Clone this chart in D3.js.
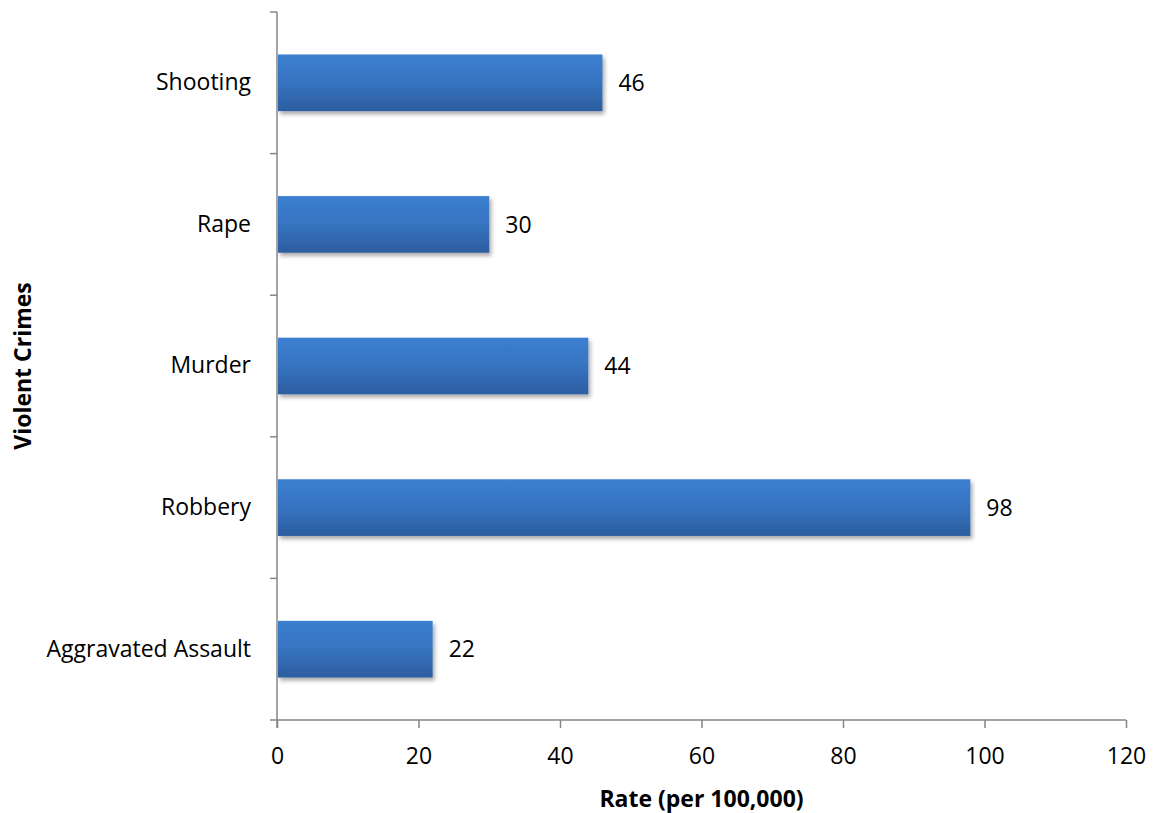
<!DOCTYPE html>
<html>
<head>
<meta charset="utf-8">
<script src="https://cdn.jsdelivr.net/npm/d3@7"></script>
<style>
  html, body { margin: 0; padding: 0; background: #fff; }
  svg { display: block; }
  text { font-family: "Open Sans", "Lato", sans-serif; fill: #000; }
</style>
</head>
<body>
<svg id="chart" width="1153" height="813"></svg>
<script>
const categories = ["Shooting", "Rape", "Murder", "Robbery", "Aggravated Assault"];
const values = [46, 30, 44, 98, 22];
const xTicks = [0, 20, 40, 60, 80, 100, 120];
const xTitle = "Rate (per 100,000)";
const yTitle = "Violent Crimes";

(function () {
const svg = d3.select("#chart");
const mLeft = 277, mRight = 1126, mTop = 12, mBottom = 720;
const fs = 23;

const x = d3.scaleLinear().domain([0, 120]).range([mLeft, mRight]);
const y = d3.scaleBand().domain(categories).range([mTop, mBottom]).paddingInner(0.6).paddingOuter(0.3);

const defs = svg.append("defs");
const grad = defs.append("linearGradient").attr("id", "barGrad")
  .attr("x1", 0).attr("y1", 0).attr("x2", 0).attr("y2", 1);
grad.append("stop").attr("offset", "0%").attr("stop-color", "#3b7fd0");
grad.append("stop").attr("offset", "45%").attr("stop-color", "#3775c3");
grad.append("stop").attr("offset", "100%").attr("stop-color", "#2c5d9f");

const filt = defs.append("filter").attr("id", "shadow").attr("x", "-5%").attr("y", "-20%").attr("width", "115%").attr("height", "160%");
filt.append("feGaussianBlur").attr("in", "SourceAlpha").attr("stdDeviation", 2.2).attr("result", "blur");
filt.append("feOffset").attr("in", "blur").attr("dx", 2).attr("dy", 3).attr("result", "off");
filt.append("feComponentTransfer").attr("in", "off").attr("result", "off2")
  .append("feFuncA").attr("type", "linear").attr("slope", 0.35);
const merge = filt.append("feMerge");
merge.append("feMergeNode").attr("in", "off2");
merge.append("feMergeNode").attr("in", "SourceGraphic");

// bars
svg.append("g").selectAll("rect").data(categories).join("rect")
  .attr("x", x(0) + 1)
  .attr("y", d => y(d))
  .attr("width", (d, i) => x(values[i]) - x(0) - 1)
  .attr("height", y.bandwidth())
  .attr("fill", "url(#barGrad)")
  .attr("filter", "url(#shadow)");

// value labels
svg.append("g").selectAll("text").data(categories).join("text")
  .attr("x", (d, i) => x(values[i]) + 16)
  .attr("y", d => y(d) + y.bandwidth() / 2)
  .attr("dy", "0.36em")
  .attr("font-size", fs)
  .text((d, i) => values[i]);

// x axis
const xAxis = d3.axisBottom(x).tickValues(xTicks).tickSize(8).tickSizeOuter(0).tickPadding(20);
const gx = svg.append("g").attr("transform", `translate(0,${mBottom})`).call(xAxis);
gx.select(".domain").attr("stroke", "#868686").attr("stroke-width", 1.5).attr("d", `M${mLeft - 7},0H${mRight}`);
gx.selectAll(".tick line").attr("stroke", "#868686").attr("stroke-width", 1.5);
gx.selectAll(".tick text").attr("font-size", fs).attr("font-family", "'Open Sans', sans-serif").attr("fill", "#000");

// y axis
const yAxis = d3.axisLeft(y).tickSize(0).tickPadding(26);
const gy = svg.append("g").attr("transform", `translate(${mLeft},0)`).call(yAxis);
gy.select(".domain").attr("stroke", "#868686").attr("stroke-width", 1.5).attr("d", `M0,${mTop}V${mBottom + 8}`);
gy.selectAll(".tick text").attr("font-size", fs).attr("font-family", "'Open Sans', sans-serif").attr("fill", "#000");
// category boundary ticks
const bounds = d3.range(categories.length + 1).map(i => mTop + i * (mBottom - mTop) / categories.length);
svg.append("g").selectAll("line").data(bounds.slice(0, -1)).join("line")
  .attr("x1", mLeft - 7).attr("x2", mLeft).attr("y1", d => d).attr("y2", d => d)
  .attr("stroke", "#868686").attr("stroke-width", 1.5);

// titles
svg.append("text").attr("x", (mLeft + mRight) / 2).attr("y", 807)
  .attr("text-anchor", "middle").attr("font-size", fs).attr("font-weight", "bold").text(xTitle);
svg.append("text").attr("transform", `translate(31,${(mTop + mBottom) / 2}) rotate(-90)`)
  .attr("text-anchor", "middle").attr("font-size", fs).attr("font-weight", "bold").text(yTitle);
})();
</script>
</body>
</html>
